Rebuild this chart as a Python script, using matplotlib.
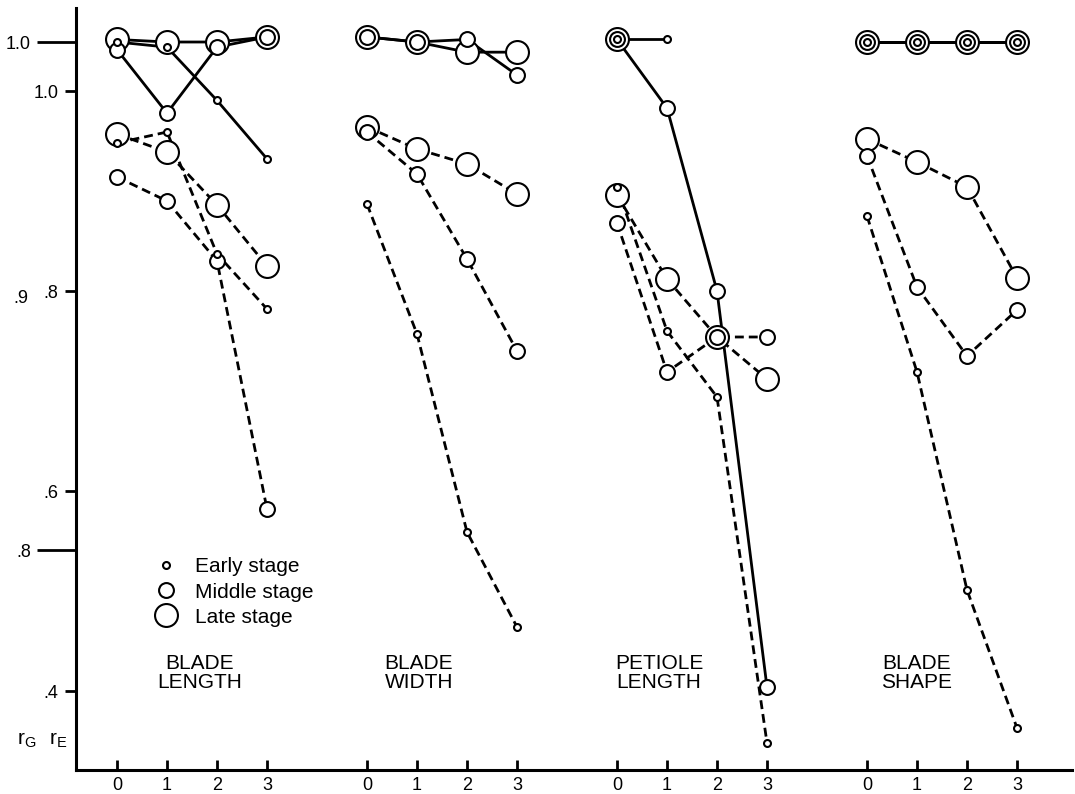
import numpy as np
import matplotlib
matplotlib.use("Agg")
import matplotlib.pyplot as plt
from matplotlib.lines import Line2D

FONT = ['Liberation Sans Narrow', 'Liberation Sans', 'DejaVu Sans']
plt.rcParams['font.family'] = FONT

# ---------------- data ----------------
traits = ["BLADE\nLENGTH", "BLADE\nWIDTH", "PETIOLE\nLENGTH", "BLADE\nSHAPE"]
times = [0, 1, 2, 3]
time_labels = ["0", "1", "2", "3"]
stages = ["Early stage", "Middle stage", "Late stage"]

nan = np.nan
# genetic correlations r_G (solid lines); one row per trait, columns = times
rG_early = [[1.000, 0.998, 0.977, 0.954],
            [nan, nan, nan, nan],
            [1.001, 1.001, nan, nan],
            [1.000, 1.000, 1.000, 1.000]]
rG_middle = [[0.997, 0.972, 0.998, 1.002],
             [1.002, 1.000, 1.001, 0.987],
             [1.001, 0.974, 0.902, 0.746],
             [1.000, 1.000, 1.000, 1.000]]
rG_late = [[1.001, 1.000, 1.000, 1.002],
           [1.002, 1.000, 0.996, 0.996],
           [1.001, nan, nan, nan],
           [1.000, 1.000, 1.000, 1.000]]
# environmental correlations r_E (dashed lines)
rE_early = [[0.948, 0.959, 0.837, 0.782],
            [0.887, 0.757, 0.559, 0.464],
            [0.904, 0.760, 0.694, 0.348],
            [0.875, 0.719, 0.501, 0.363]]
rE_middle = [[0.914, 0.890, 0.830, 0.582],
             [0.959, 0.917, 0.832, 0.740],
             [0.868, 0.719, 0.754, 0.754],
             [0.935, 0.804, 0.735, 0.781]]
rE_late = [[0.957, 0.939, 0.886, 0.825],
           [0.964, 0.942, 0.927, 0.897],
           [0.896, 0.812, 0.754, 0.712],
           [0.952, 0.929, 0.904, 0.813]]

rE_ticks = [1.0, 0.8, 0.6, 0.4]
rE_ticklabels = ["1.0", ".8", ".6", ".4"]
rG_ticks = [1.0, 0.8]
rG_ticklabels = ["1.0", ".8"]
rG_minor_ticks = [0.9]
rG_minor_labels = [".9"]

# ---------------- layout / style ----------------
GROUP_GAP = 5
label_x = [1.66, 6.04, 10.84, 16.0]
label_y = 0.418
marker_size = {"Early stage": 5.0, "Middle stage": 10.7, "Late stage": 16.5}
MEW = 1.5
LW = 2.0
DASH = (0, (3.2, 1.8))

fig = plt.figure(figsize=(10.75, 7.94), dpi=100)
ax = fig.add_axes([76 / 1075, 24 / 794, 996 / 1075, 762 / 794])
ax2 = ax.twinx()
ax2.set_ylim(0.71339, 1.01339)
ax2.patch.set_visible(False)

rG_sets = {"Early stage": rG_early, "Middle stage": rG_middle, "Late stage": rG_late}
rE_sets = {"Early stage": rE_early, "Middle stage": rE_middle, "Late stage": rE_late}

# lines
for g in range(len(traits)):
    xs = [GROUP_GAP * g + t for t in times]
    for st in stages:
        ax.plot(xs, rG_sets[st][g], color='black', lw=LW, ls='-',
                zorder=2, transform=ax2.transData, solid_capstyle='butt')
        ax.plot(xs, rE_sets[st][g], color='black', lw=LW, ls=DASH,
                zorder=2, dash_capstyle='butt')

# markers (largest first so smaller rings sit on top)
for k, st in enumerate(["Late stage", "Middle stage", "Early stage"]):
    for g in range(len(traits)):
        xs = [GROUP_GAP * g + t for t in times]
        ax.plot(xs, rE_sets[st][g], ls='none', marker='o', ms=marker_size[st],
                mfc='white', mec='black', mew=MEW, zorder=3 + 0.1 * k)
        ax.plot(xs, rG_sets[st][g], ls='none', marker='o', ms=marker_size[st],
                mfc='white', mec='black', mew=MEW, zorder=3 + 0.1 * k,
                transform=ax2.transData)

ax.set_xlim(-0.82, 19.1)
ax.set_ylim(0.321, 1.083)

# x axis
xt = [GROUP_GAP * g + t for g in range(len(traits)) for t in times]
ax.set_xticks(xt, time_labels * len(traits))
ax.tick_params(axis='x', direction='in', length=7, width=2, pad=5, labelsize=13)

# r_E axis ticks
ax.set_yticks(rE_ticks, rE_ticklabels)
ax.tick_params(axis='y', direction='out', length=8, width=2, pad=4.5, labelsize=13)

# r_G axis ticks (on the left as well)
ax2.yaxis.set_ticks_position('left')
ax2.yaxis.set_label_position('left')
ax2.set_yticks(rG_ticks, rG_ticklabels)
ax2.set_yticks(rG_minor_ticks, rG_minor_labels, minor=True)
ax2.tick_params(axis='y', which='major', direction='out', length=28, width=2,
                pad=4.4, labelsize=13)
ax2.tick_params(axis='y', which='minor', length=0, pad=34.6, labelsize=13)

for sp in ['top', 'right']:
    ax.spines[sp].set_visible(False)
for sp in ax2.spines.values():
    sp.set_visible(False)
for sp in ['left', 'bottom']:
    ax.spines[sp].set_linewidth(2.2)

# axis names r_G  r_E
ax2.set_ylabel(r'$\mathregular{r_G}$', rotation=0, fontsize=15, ha='center', va='center')
ax2.yaxis.set_label_coords(-0.0492, 0.0394)
ax.set_ylabel(r'$\mathregular{r_E}$', rotation=0, fontsize=15, ha='center', va='center')
ax.yaxis.set_label_coords(-0.0181, 0.0394)

# trait labels
for g, name in enumerate(traits):
    ax.text(label_x[g], label_y, name, ha='center', va='center', fontsize=15,
            linespacing=1.05, multialignment='center')

# legend
handles = [Line2D([], [], ls='none', marker='o', ms=marker_size[s], mfc='white',
                  mec='black', mew=MEW) for s in stages]
fig.legend(handles, stages, loc='center left',
           bbox_to_anchor=(155.5 / 1075, 1 - 592 / 794), frameon=False,
           fontsize=15, handlelength=1.0, handletextpad=0.88, labelspacing=0.3,
           borderpad=0, borderaxespad=0, numpoints=1)

fig.savefig("out.png", dpi=100)
